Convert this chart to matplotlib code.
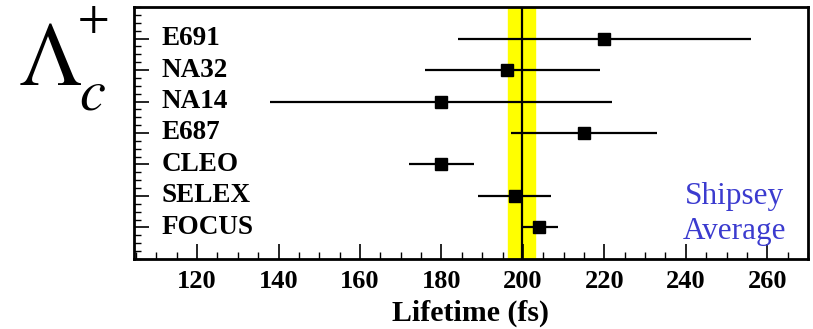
import matplotlib
matplotlib.use("Agg")
import matplotlib.pyplot as plt
from matplotlib.ticker import MultipleLocator

# Lambda_c lifetime measurements (fs)
experiments = ["E691", "NA32", "NA14", "E687", "CLEO", "SELEX", "FOCUS"]
lifetime = [220, 196, 180, 215, 180, 198, 204]
err_low = [36, 20, 42, 18, 8, 9, 4]
err_high = [36, 23, 42, 18, 8, 9, 4.5]
avg_value = 199.7
avg_error = 3.3

plt.rcParams['font.family'] = ['Liberation Serif', 'DejaVu Serif']
plt.rcParams['mathtext.fontset'] = 'stix'

W, H = 813, 329
fig = plt.figure(figsize=(W / 100, H / 100), dpi=100)
ax = fig.add_axes([0.1648, 0.2128, 0.829, 0.7659])

rows = list(range(1, len(experiments) + 1))

# average band
ax.axvspan(avg_value - avg_error, avg_value + avg_error, color='#ffff00', zorder=1)
ax.axvline(avg_value, color='black', lw=1.6, zorder=2)

ax.errorbar(lifetime, rows, xerr=[err_low, err_high], fmt='s', color='black',
            ecolor='black', elinewidth=1.6, markersize=9, capsize=0, zorder=3)

for r, name in zip(rows, experiments):
    ax.text(111.3, r, name, fontsize=19.5, fontweight='bold', va='center', ha='left')

ax.set_xlim(104.5, 270)
ax.set_ylim(8, 0)

ax.set_xticks(range(120, 261, 20))
ax.xaxis.set_minor_locator(MultipleLocator(5))
ax.set_yticks(rows)
ax.yaxis.set_minor_locator(MultipleLocator(0.25))
ax.set_yticklabels([])

ax.tick_params(axis='both', which='major', direction='in', length=11, width=1.2,
               top=False, right=False)
ax.tick_params(axis='both', which='minor', direction='in', length=5, width=1.0,
               top=False, right=False)
ax.tick_params(axis='x', labelsize=19, pad=8)
for lab in ax.get_xticklabels():
    lab.set_fontweight('bold')
for sp in ax.spines.values():
    sp.set_linewidth(2)

ax.set_xlabel("Lifetime (fs)", fontsize=21.5, fontweight='bold', labelpad=5)

ax.text(252, 6.27, "Shipsey", fontsize=22.5, color='#3b3bcf', ha='center', va='baseline')
ax.text(252, 7.38, "Average", fontsize=22.5, color='#3b3bcf', ha='center', va='baseline')

# particle symbol, placed piece by piece
fig.text(18 / W, 1 - 85 / H, r"$\Lambda$", fontsize=65, ha='left', va='baseline')
fig.text(79 / W, 1 - 110 / H, r"$c$", fontsize=42, ha='left', va='baseline')
fig.text(93 / W, 1 - 20 / H, r"$+$", fontsize=33, ha='center', va='center')

fig.savefig("out.png", dpi=100)
